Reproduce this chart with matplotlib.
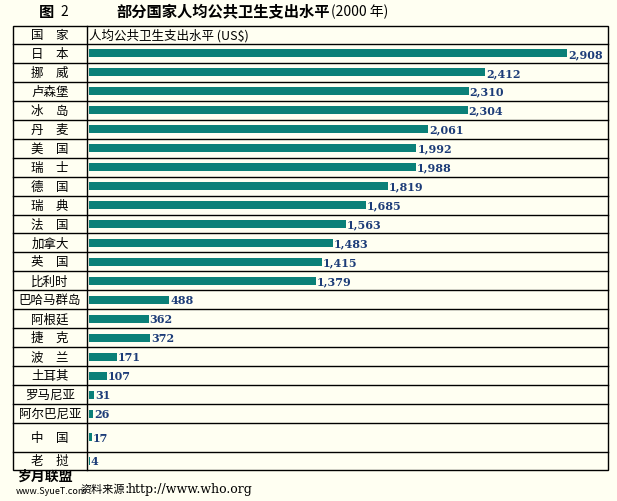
import matplotlib.pyplot as plt
from matplotlib.patches import Rectangle

plt.rcParams['font.family'] = ['Noto Sans CJK SC', 'DejaVu Sans']

countries = ['日　本', '挪　威', '卢森堡', '冰　岛', '丹　麦', '美　国', '瑞　士', '德　国',
             '瑞　典', '法　国', '加拿大', '英　国', '比利时', '巴哈马群岛', '阿根廷', '捷　克',
             '波　兰', '土耳其', '罗马尼亚', '阿尔巴尼亚', '中　国', '老　挝']
values = [2908, 2412, 2310, 2304, 2061, 1992, 1988, 1819, 1685, 1563, 1483, 1415, 1379,
          488, 362, 372, 171, 107, 31, 26, 17, 4]
row_heights = [18.95] * 20 + [29, 18]

bg = '#fffff2'
teal = '#0b8078'
fig = plt.figure(figsize=(6.17, 5.02), dpi=100, facecolor=bg)
ax = fig.add_axes([0, 0, 1, 1])
ax.set_xlim(0, 617)
ax.set_ylim(502, 0)
ax.axis('off')

left, mid, right = 13, 87, 608
x0 = 89
scale = (567 - x0) / 2908

ax.text(47, 12, '图', fontsize=11, fontweight='bold', ha='center', va='center')
ax.text(60, 12, '2', fontsize=10, ha='left', va='center')
ax.text(330, 12, '部分国家人均公共卫生支出水平', fontsize=11, fontweight='bold',
        ha='right', va='center')
ax.text(331, 12, '(2000 年)', fontsize=10, ha='left', va='center')

top = 27
header_h = 18
bottom = top + header_h + sum(row_heights)
ax.add_patch(Rectangle((left, top), right - left, bottom - top, fill=False, lw=1, ec='black'))
ax.plot([mid, mid], [top, bottom], color='black', lw=1)
ax.text(50, top + header_h / 2, '国　家', fontsize=9, ha='center', va='center')
ax.text(mid + 2, top + header_h / 2, '人均公共卫生支出水平 (US$)', fontsize=9, ha='left', va='center')

y = top + header_h
for name, v, h in zip(countries, values, row_heights):
    ax.plot([left, right], [y, y], color='black', lw=1)
    cy = y + h / 2
    ax.text(50, cy, name, fontsize=9, ha='center', va='center')
    ax.barh(cy, v * scale, left=x0, height=8, color=teal)
    ax.text(x0 + v * scale + 1, cy, f'{v:,}', fontsize=8, fontweight='bold', family='DejaVu Serif',
            color='#1c3c78', ha='left', va='center')
    y += h

ax.text(18, bottom + 6, '岁月联盟', fontsize=10, fontweight='bold', ha='left', va='center')
ax.text(16, bottom + 21, 'www.SyueT.com', fontsize=6.5, ha='left', va='center')
ax.text(80, bottom + 19, '资料来源：', fontsize=8, ha='left', va='center')
ax.text(128, bottom + 19, 'http://www.who.org', fontsize=9, family='DejaVu Serif',
        ha='left', va='center')

fig.savefig('out.png', dpi=100, facecolor=bg)
